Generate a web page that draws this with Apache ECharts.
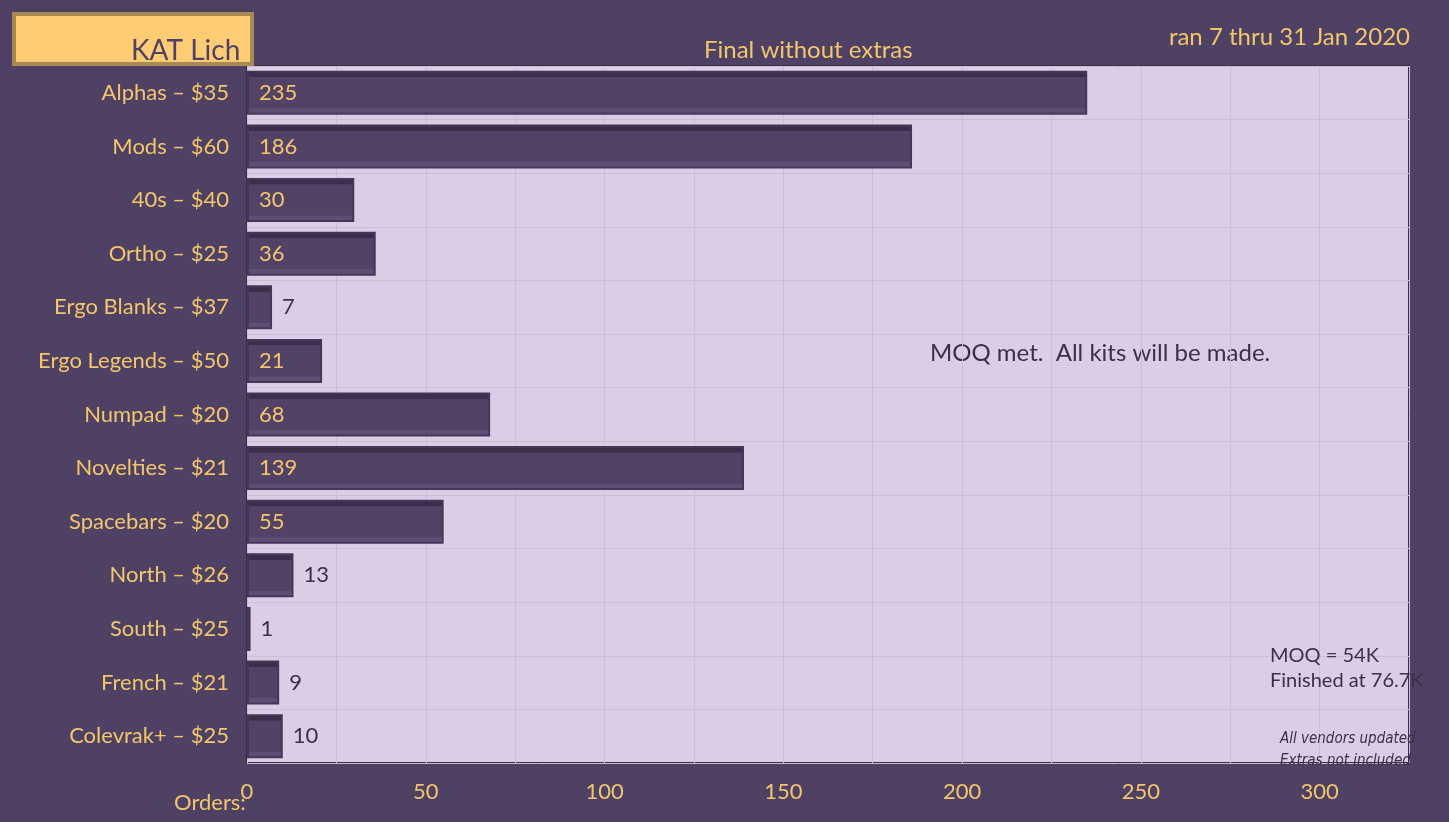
<!DOCTYPE html>
<html>
<head>
<meta charset="utf-8">
<script src="https://cdn.jsdelivr.net/npm/echarts@6/dist/echarts.min.js"></script>
<style>html,body{margin:0;background:#4f4163;}#chart{width:1449px;height:822px;}</style>
</head>
<body>
<div id="chart"></div>
<script>
var categories = ["Alphas – $35","Mods – $60","40s – $40","Ortho – $25","Ergo Blanks – $37","Ergo Legends – $50","Numpad – $20","Novelties – $21","Spacebars – $20","North – $26","South – $25","French – $21","Colevrak+ – $25"];
var orders = [235,186,30,36,7,21,68,139,55,13,1,9,10];
var insideMin = 20;

var gold = "#f2c66d", dark = "#3b3049";
var chart = echarts.init(document.getElementById('chart'));
chart.setOption({
    backgroundColor: "#4f4163",
    textStyle: {fontFamily: "Lato"},
    grid: {left: 247, right: 40, top: 66, bottom: 59, backgroundColor: "#dccde6", show: true, borderColor: "#3a2f48", borderWidth: 2},
    xAxis: {
        type: "value", min: 0, max: 325, interval: 25,
        axisLine: {show: false}, axisTick: {show: false},
        splitLine: {lineStyle: {color: "#cdbdd8", width: 1}},
        axisLabel: {color: gold, fontSize: 22, margin: 18,
            formatter: function (v) { return v % 50 === 0 && v <= 300 ? v : ""; }}
    },
    yAxis: {
        type: "category", data: categories, inverse: true,
        axisLine: {show: false}, axisTick: {show: false},
        splitLine: {show: true, lineStyle: {color: "#cdbdd8"}},
        axisLabel: {color: gold, fontSize: 22, margin: 18}
    },
    series: [{
        type: "bar", barWidth: 44,
        data: orders,
        itemStyle: {
            color: {type: "linear", x: 0, y: 0, x2: 0, y2: 1, colorStops: [
                {offset: 0, color: "#3a2f4a"}, {offset: 0.14, color: "#3a2f4a"},
                {offset: 0.15, color: "#514266"}, {offset: 0.85, color: "#514266"},
                {offset: 0.86, color: "#5e4e75"}, {offset: 1, color: "#5e4e75"}]},
            borderColor: "#443759", borderWidth: 2
        },
        label: {show: true, fontSize: 22,
            formatter: function (p) { return p.value; },
            position: "insideLeft", color: gold, distance: 12},
        labelLayout: null
    }],
    graphic: [
        {type: "rect", left: 12, top: 12, shape: {width: 238, height: 50},
            style: {fill: "#ffcc74", stroke: "#a88a55", lineWidth: 4}},
        {type: "text", left: 131, top: 37, style: {text: "KAT Lich", fill: "#4f4163", font: "28px Lato", align: "center", verticalAlign: "middle"}},
        {type: "text", left: 704, top: 38, style: {text: "Final without extras", fill: gold, font: "24px Lato", align: "center", verticalAlign: "middle"}},
        {type: "text", right: 39, top: 25, style: {text: "ran 7 thru 31 Jan 2020", fill: gold, font: "24px Lato"}},
        {type: "text", left: 174, top: 792, style: {text: "Orders:", fill: gold, font: "22px Lato", align: "center", verticalAlign: "middle"}},
        {type: "text", left: 918, top: 333, style: {text: "MOQ met.  All kits will be made.", fill: dark, font: "24px Lato", align: "center", verticalAlign: "middle", backgroundColor: "#dccde6", padding: [8, 12]}},
        {type: "rect", left: 1167, top: 616, shape: {width: 214, height: 145}, style: {fill: "#dccde6"}},
        {type: "text", left: 1270, top: 643, style: {text: "MOQ = 54K\nFinished at 76.7K", fill: dark, font: "20px Lato", lineHeight: 25, align: "center", verticalAlign: "middle"}, z: 10},
        {type: "text", left: 1280, top: 728, style: {text: "All vendors updated\nExtras not included", fill: dark, font: "italic 15px 'DejaVu Sans Condensed'", lineHeight: 22, align: "center", verticalAlign: "middle"}, z: 10}
    ]
});
// small bars: move value label outside
var opt = chart.getOption();
chart.setOption({series: [{data: orders.map(function (v) {
    return v > insideMin ? v : {value: v, label: {position: "right", color: dark, distance: 10}};
})}]});
</script>
</body>
</html>
